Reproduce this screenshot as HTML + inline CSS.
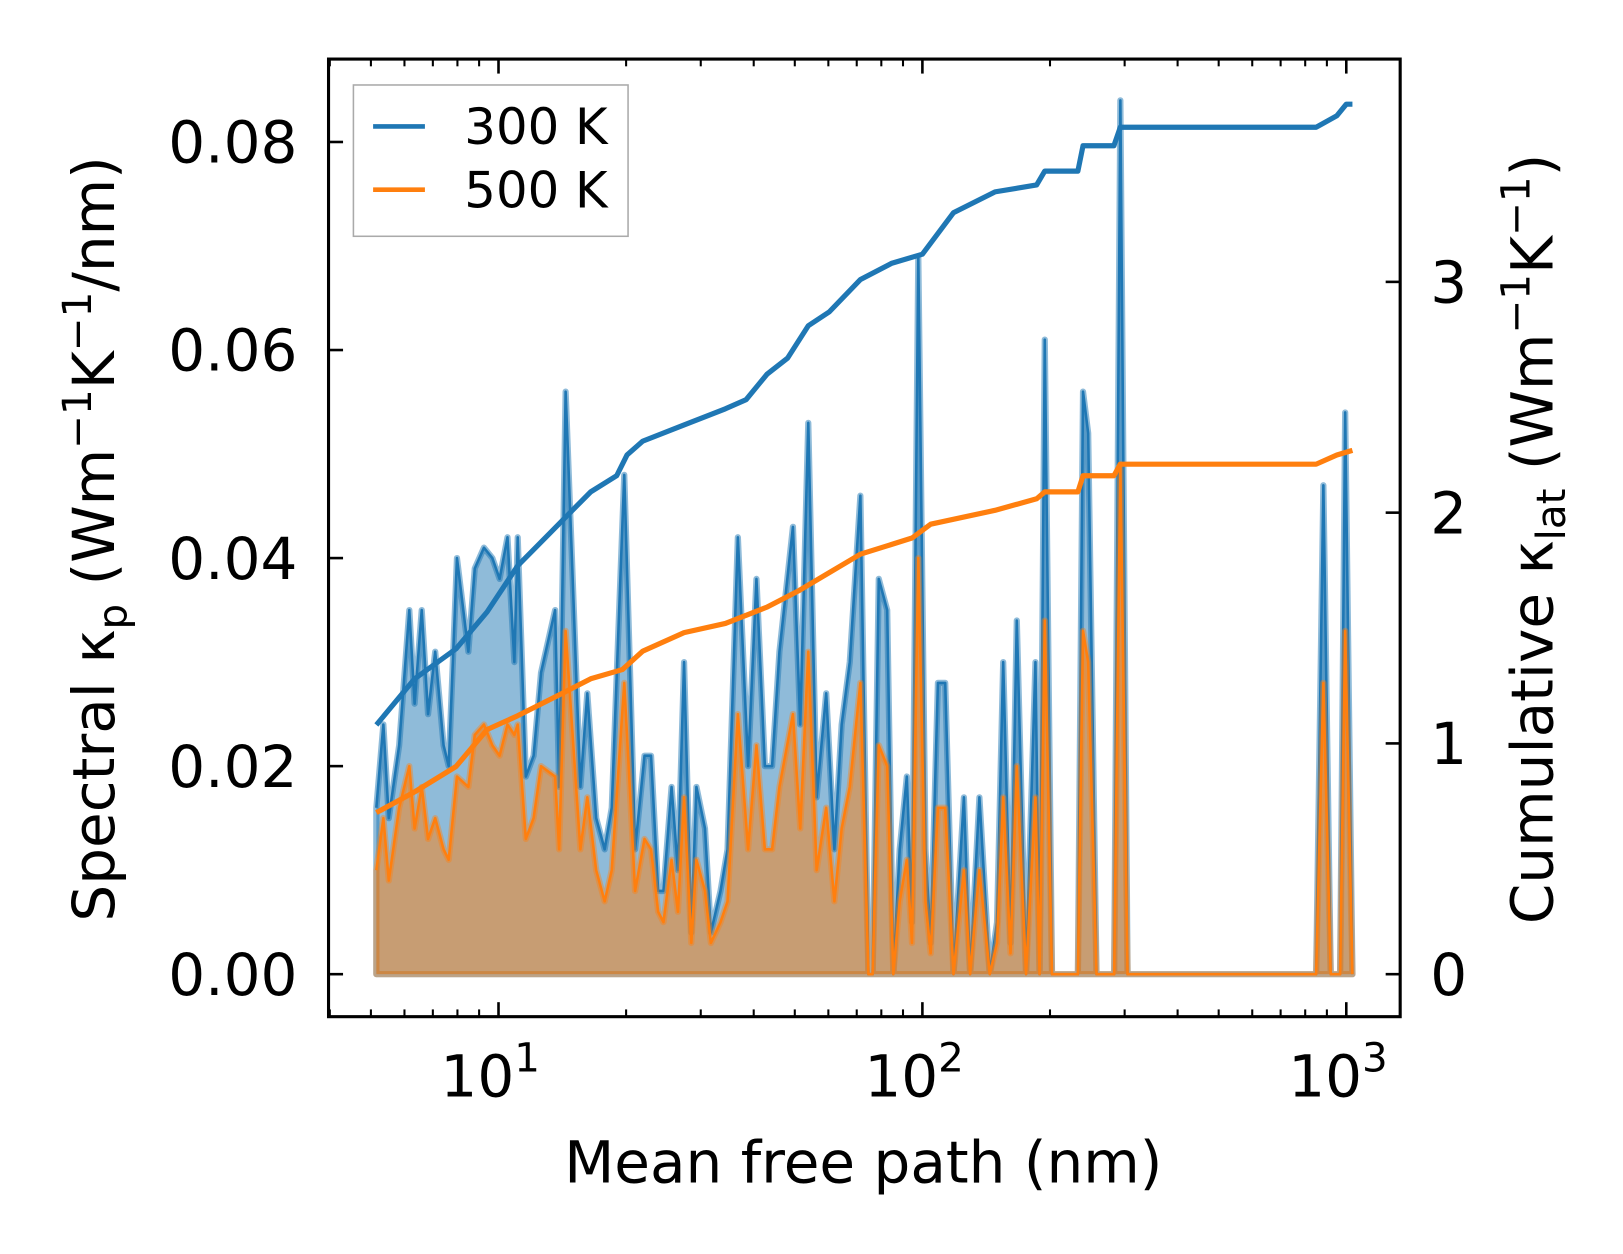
<!DOCTYPE html>
<html><head><meta charset="utf-8">
<style>
html,body{margin:0;padding:0;background:#fff;overflow:hidden;width:1623px;height:1254px;}
svg{display:block;font-family:"DejaVu Sans","Liberation Sans",sans-serif;}
</style></head>
<body>
<svg id="chart" width="1623" height="1254" viewBox="0 0 1566 1210" preserveAspectRatio="none" xmlns="http://www.w3.org/2000/svg">
<rect x="0" y="0" width="1566" height="1210" fill="#fff"/>
<g id="plot"></g>
<g id="axes"></g>
<text x="833" y="1141" text-anchor="middle" font-size="56">Mean free path (nm)</text>
<text transform="translate(110,520) rotate(-90)" text-anchor="middle" font-size="56">Spectral κ<tspan dy="12" font-size="39">p</tspan><tspan dy="-12"> (Wm</tspan><tspan dy="-22" font-size="39">−1</tspan><tspan dy="22">K</tspan><tspan dy="-22" font-size="39">−1</tspan><tspan dy="22">/nm)</tspan></text>
<text transform="translate(1498,520) rotate(-90)" text-anchor="middle" font-size="56">Cumulative κ<tspan dy="12" font-size="39">lat</tspan><tspan dy="-12"> (Wm</tspan><tspan dy="-22" font-size="39">−1</tspan><tspan dy="22">K</tspan><tspan dy="-22" font-size="39">−1</tspan><tspan dy="22">)</tspan></text>
<g>
<rect x="341" y="82" width="265" height="146" fill="#fff" fill-opacity="0.8" stroke="#aaa" stroke-width="1.5"/>
<line x1="360" x2="410" y1="122" y2="122" stroke="#1f77b4" stroke-width="4.5"/>
<text x="448" y="139" font-size="48">300 K</text>
<line x1="360" x2="410" y1="183" y2="183" stroke="#ff7f0e" stroke-width="4.5"/>
<text x="448" y="200" font-size="48">500 K</text>
</g>
</svg>
<script>
const mfp = [5.15,5.35,5.51,5.83,6.16,6.34,6.59,6.82,7.09,7.42,7.63,7.98,8.49,8.79,9.24,9.67,10.06,10.5,10.9,11.1,11.6,12.1,12.6,13.6,13.9,14.4,14.9,15.6,16.2,17.0,17.8,18.5,19.8,20.4,21.0,22.1,22.9,23.8,24.5,25.6,26.5,27.4,28.5,29.3,30.7,31.7,33.4,34.7,36.7,38.8,40.6,42.5,44.2,46.0,49.5,51.5,53.8,56.3,59.3,62.0,64.5,67.4,71.4,74.6,76.3,78.9,82.6,85.4,88.4,91.9,94.5,97.8,101.7,104.6,108.8,113.2,118.4,125.3,129.6,136.3,144.2,150.0,155.1,161.4,167.0,175.6,184.8,189.0,194.4,202.2,226.2,232.7,239.3,246.1,257.5,283.4,293.1,304.8,849,883,919,967,994,1034];
const spec300 = [0.016,0.024,0.015,0.022,0.035,0.026,0.035,0.025,0.031,0.022,0.020,0.040,0.031,0.039,0.041,0.040,0.038,0.042,0.030,0.042,0.019,0.021,0.029,0.035,0.018,0.056,0.040,0.018,0.027,0.015,0.012,0.016,0.048,0.030,0.012,0.021,0.021,0.008,0.008,0.018,0.010,0.030,0.004,0.018,0.014,0.004,0.008,0.012,0.042,0.020,0.038,0.020,0.020,0.031,0.043,0.024,0.053,0.017,0.027,0.012,0.024,0.030,0.046,0,0,0.038,0.035,0,0.012,0.019,0.005,0.069,0.012,0.003,0.028,0.028,0,0.017,0,0.017,0,0.005,0.030,0.003,0.034,0,0.030,0,0.061,0,0,0,0.056,0.052,0,0,0.084,0,0,0.047,0,0,0.054,0];
const spec500 = [0.010,0.015,0.009,0.016,0.020,0.014,0.018,0.013,0.015,0.012,0.011,0.019,0.018,0.023,0.024,0.022,0.021,0.024,0.023,0.024,0.013,0.015,0.020,0.019,0.012,0.033,0.024,0.012,0.017,0.010,0.007,0.010,0.028,0.018,0.008,0.013,0.012,0.006,0.005,0.011,0.006,0.017,0.003,0.011,0.008,0.003,0.005,0.007,0.025,0.012,0.022,0.012,0.012,0.018,0.025,0.014,0.031,0.010,0.016,0.007,0.014,0.018,0.028,0,0,0.022,0.020,0,0.007,0.011,0.003,0.040,0.007,0.002,0.016,0.016,0,0.010,0,0.010,0,0.003,0.017,0.002,0.020,0,0.017,0,0.034,0,0,0,0.033,0.030,0,0,0.049,0,0,0.028,0,0,0.033,0];
const cumX300 = [5.15,6.34,7.94,9.4,11.1,13.2,14.75,16.5,19.0,20.1,21.9,27.4,34.3,38.4,43,48.1,53.8,60.3,71.4,84.5,100,118.4,148.3,186,194.4,232.7,239.3,283,293,849,950,1000,1034];
const cum300 = [1.08,1.28,1.41,1.57,1.77,1.91,2.0,2.09,2.16,2.25,2.31,2.38,2.45,2.49,2.6,2.67,2.81,2.87,3.01,3.08,3.12,3.3,3.39,3.42,3.48,3.48,3.59,3.59,3.67,3.67,3.72,3.77,3.77];
const cumX500 = [5.15,6.34,7.94,9.4,11.1,13.9,16.5,19.6,21.9,27.4,34.3,42.9,50.9,60.3,71.4,94.5,104.6,148.3,186,194.4,232.7,239.3,283,293,849,950,1034];
const cum500 = [0.70,0.79,0.9,1.06,1.12,1.21,1.28,1.32,1.4,1.48,1.52,1.59,1.66,1.74,1.82,1.89,1.95,2.01,2.06,2.09,2.09,2.16,2.16,2.21,2.21,2.25,2.27];
const leftTicks = [0,0.02,0.04,0.06,0.08];
const leftTickLabels = ["0.00","0.02","0.04","0.06","0.08"];
const rightTicks = [0,1,2,3];
const xMajor = [10,100,1000];
const xMajorLabels = ["1","2","3"];

const L=317,R=1351,T=57,B=981;
const X=v=>481+409*(Math.log10(v)-1);
const YL=v=>940-10037.5*v;
const YR=v=>940-222.67*v;
const NS="http://www.w3.org/2000/svg";
function mk(tag,attrs,parent){const e=document.createElementNS(NS,tag);for(const k in attrs)e.setAttribute(k,attrs[k]);parent.appendChild(e);return e;}
const plot=document.getElementById('plot'), axes=document.getElementById('axes');

function areaPath(xs,ys){let d=`M${X(xs[0])},${YL(0)}`;xs.forEach((x,i)=>d+=`L${X(x)},${YL(ys[i])}`);d+=`L${X(xs[xs.length-1])},${YL(0)}Z`;return d;}
function linePath(xs,ys,f){return xs.map((x,i)=>(i?'L':'M')+X(x)+','+f(ys[i])).join('');}

let e;
e=mk('path',{d:areaPath(mfp,spec300),fill:'rgba(31,119,180,0.5)',stroke:'rgba(31,119,180,0.5)','stroke-width':6,'stroke-linejoin':'round'},plot);


e=mk('path',{d:linePath(mfp,spec300,YL),fill:'none',stroke:'#1f77b4','stroke-width':2.5,'stroke-linejoin':'round'},plot);


e=mk('path',{d:areaPath(mfp,spec500),fill:'rgba(255,127,14,0.5)',stroke:'rgba(255,127,14,0.4)','stroke-width':6,'stroke-linejoin':'round'},plot);


e=mk('path',{d:linePath(mfp,spec500,YL),fill:'none',stroke:'#ff7f0e','stroke-width':2.5,'stroke-linejoin':'round'},plot);


e=mk('path',{d:linePath(cumX300,cum300,YR),fill:'none',stroke:'#1f77b4','stroke-width':5,'stroke-linejoin':'round'},plot);


e=mk('path',{d:linePath(cumX500,cum500,YR),fill:'none',stroke:'#ff7f0e','stroke-width':5,'stroke-linejoin':'round'},plot);



e=mk('rect',{x:L,y:T,width:R-L,height:B-T,fill:'none',stroke:'#000','stroke-width':3},axes);



leftTicks.forEach((v,i)=>{const y=YL(v);
 mk('line',{x1:L,x2:L+14,y1:y,y2:y,stroke:'#000','stroke-width':2.5},axes);
 e=mk('text',{x:287,y:y+20,'text-anchor':'end','font-size':56},axes);e.textContent=leftTickLabels[i];
 
 
});
rightTicks.forEach(v=>{const y=YR(v);
 mk('line',{x1:R-14,x2:R,y1:y,y2:y,stroke:'#000','stroke-width':2.5},axes);
 e=mk('text',{x:1380,y:y+20,'font-size':56},axes);e.textContent=String(v);
 
 
});
for(let dec=1;dec<=1000;dec*=10){for(let m=1;m<10;m++){const v=dec*m;const x=X(v);if(x<L||x>R)continue;
 const len=m===1?14:7;
 mk('line',{x1:x,x2:x,y1:B,y2:B-len,stroke:'#000','stroke-width':m===1?2.5:2},axes);
 mk('line',{x1:x,x2:x,y1:T,y2:T+len,stroke:'#000','stroke-width':m===1?2.5:2},axes);
}}
xMajor.forEach((v,i)=>{const x=X(v);
 e=mk('text',{x:x-8,y:1058,'text-anchor':'middle','font-size':56},axes);
 e.innerHTML='10<tspan dy="-24" font-size="39">'+xMajorLabels[i]+'</tspan>';
 
 
});
</script>
</body></html>
